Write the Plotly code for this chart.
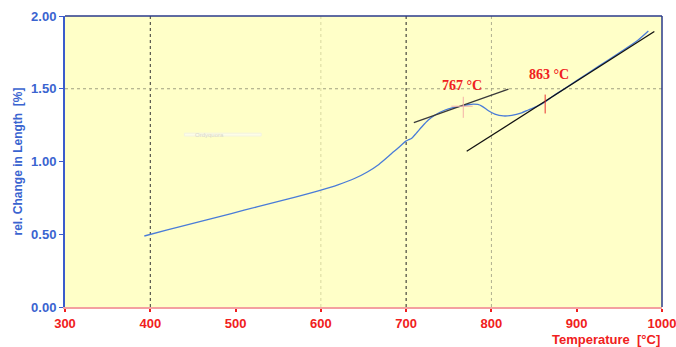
import plotly.graph_objects as go

# Measured curve (temperature °C, rel. change in length %)
temp = [393, 420, 450, 480, 510, 540, 570, 598, 620, 640, 655, 668, 683, 692, 699.6, 703, 706.6, 712, 718.5, 726, 734, 745.7, 755, 765, 772, 779, 784, 788.7, 796.5, 804, 814, 823.8, 835.5, 843.3, 852, 863, 872, 885, 900, 925, 950, 971, 984]
dl = [0.488, 0.53, 0.575, 0.62, 0.665, 0.71, 0.755, 0.80, 0.84, 0.885, 0.93, 0.98, 1.055, 1.10, 1.14, 1.15, 1.16, 1.195, 1.239, 1.285, 1.32, 1.354, 1.37, 1.381, 1.39, 1.395, 1.392, 1.381, 1.349, 1.326, 1.313, 1.317, 1.335, 1.354, 1.375, 1.41, 1.448, 1.498, 1.556, 1.652, 1.748, 1.830, 1.897]

# Tangent lines (endpoints in data units)
tan1_t = [709, 820]
tan1_v = [1.267, 1.498]
tan2_t = [771, 991]
tan2_v = [1.07, 1.893]

# Characteristic points
marks_t = [767, 863]
marks_lbl = ["767 °C", "863 °C"]

x_ticks = [300, 400, 500, 600, 700, 800, 900, 1000]
y_ticks = [0.0, 0.5, 1.0, 1.5, 2.0]

fig = go.Figure()

# vertical dotted grid lines
vgrid = [(400, "#333333"), (600, "#d8d8a0"), (700, "#222222"), (800, "#b0b090")]
for gx, col in vgrid:
    fig.add_shape(type="line", x0=gx, x1=gx, y0=0, y1=2, xref="x", yref="y",
                  line=dict(color=col, width=1, dash="dot"), layer="below")
fig.add_shape(type="line", x0=300, x1=1000, y0=1.5, y1=1.5, xref="x", yref="y",
              line=dict(color="#a0a080", width=1, dash="dot"), layer="below")

# faint ghost legend box
fig.add_shape(type="rect", x0=440, x1=530, y0=1.175, y1=1.195, xref="x", yref="y",
              line=dict(color="#f3f3e0", width=1), fillcolor="#fdfde8", layer="below")
fig.add_annotation(x=470, y=1.185, text="Ordyquora", showarrow=False,
                   font=dict(size=6, color="#d8d8c8", family="Liberation Sans"))

fig.add_trace(go.Scatter(x=temp, y=dl, mode="lines", line=dict(color="#4a7cd8", width=1.3, shape="spline", smoothing=0.6),
                         showlegend=False, hoverinfo="skip"))
fig.add_trace(go.Scatter(x=tan1_t, y=tan1_v, mode="lines", line=dict(color="#3a3a3a", width=1.3),
                         showlegend=False))
fig.add_trace(go.Scatter(x=tan2_t, y=tan2_v, mode="lines", line=dict(color="#111111", width=1.3),
                         showlegend=False))

# red markers at characteristic temperatures
fig.add_shape(type="line", x0=marks_t[0], x1=marks_t[0], y0=1.30, y1=1.445,
              line=dict(color="#f4b0a8", width=1))
fig.add_shape(type="line", x0=marks_t[0]-14, x1=marks_t[0]+11, y0=1.38, y1=1.38,
              line=dict(color="#f4b0a8", width=1))
fig.add_shape(type="line", x0=marks_t[1], x1=marks_t[1], y0=1.33, y1=1.46,
              line=dict(color="#e83030", width=1))

fig.add_annotation(x=marks_t[0] - 1.5, y=1.525, text=marks_lbl[0], showarrow=False,
                   font=dict(size=14, color="#f02020", family="Liberation Serif", weight="bold"))
fig.add_annotation(x=marks_t[1] + 4, y=1.60, text=marks_lbl[1], showarrow=False,
                   font=dict(size=14, color="#f02020", family="Liberation Serif", weight="bold"))

# border lines top / right
fig.add_shape(type="line", x0=0, x1=1, y0=1, y1=1, xref="paper", yref="paper",
              line=dict(color="#2a3a8a", width=1.5))
fig.add_shape(type="line", x0=1, x1=1, y0=0, y1=1, xref="paper", yref="paper",
              line=dict(color="#2a3a8a", width=1.5))

fig.add_annotation(x=1.0, xref="paper", xanchor="right", y=-0.112, yref="paper", yanchor="middle",
                   text="Temperature  [°C]", showarrow=False,
                   font=dict(size=13, color="#f02020", family="Liberation Sans", weight="bold"))

fig.update_layout(
    width=676, height=347,
    margin=dict(l=65, r=14, t=16, b=40, autoexpand=False),
    paper_bgcolor="white", plot_bgcolor="#ffffc8",
    xaxis=dict(range=[300, 1000], tickvals=x_ticks, ticktext=[str(v) for v in x_ticks],
               showgrid=False, zeroline=False, showline=True, linecolor="#f4a0a0", linewidth=2,
               ticks="outside", ticklen=3, tickcolor="#f02020", tickwidth=2,
               ticklabeloverflow="allow", automargin=False,
               tickfont=dict(size=13, color="#f02020", family="Liberation Sans", weight="bold")),
    yaxis=dict(range=[0, 2], tickvals=y_ticks, tickformat=".2f", automargin=False,
               showgrid=False, zeroline=False, showline=True, linecolor="#3a5ccc", linewidth=2,
               ticks="outside", ticklen=4, tickcolor="#3a5ccc", ticklabeloverflow="allow",
               tickfont=dict(size=13, color="#3a64d0", family="Liberation Sans", weight="bold"),
               title=dict(text="rel. Change in Length  [%]", standoff=6,
                          font=dict(size=12, color="#3a64d0", family="Liberation Sans", weight="bold"))),
)

fig.write_html("out.html", config={"displayModeBar": False},
               post_script="document.body.style.margin='0px';document.body.style.overflow='hidden';")
